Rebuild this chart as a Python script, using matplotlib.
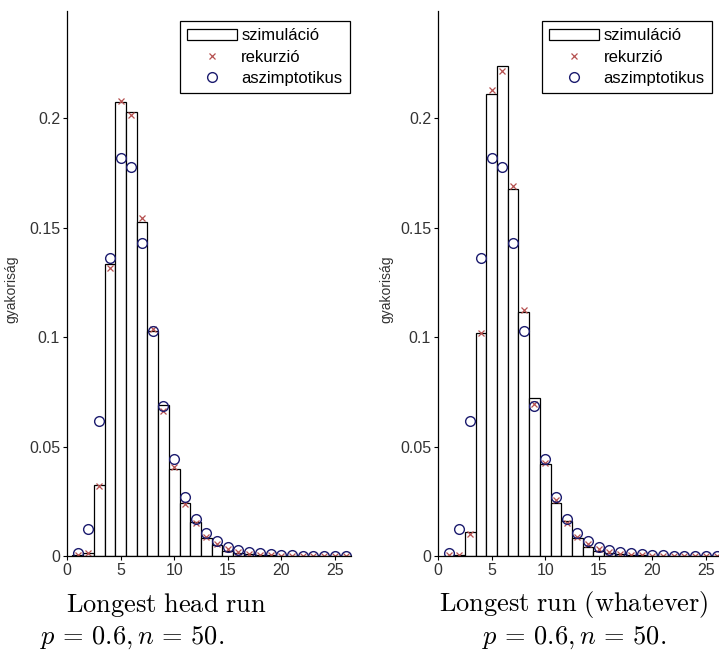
import numpy as np
import matplotlib
matplotlib.use('Agg')
import matplotlib.pyplot as plt
from matplotlib.patches import Patch
from matplotlib.lines import Line2D

plt.rcParams['font.family'] = ['Liberation Sans', 'DejaVu Sans']
plt.rcParams['mathtext.fontset'] = 'cm'

# run lengths 1..26
k = np.arange(1, 27)

# longest head run: simulation, recursion, asymptotic
head_sim = [0.0005, 0.0012, 0.0323, 0.1333, 0.2072, 0.2027, 0.1528, 0.1027, 0.0690, 0.0397,
            0.0242, 0.0154, 0.0082, 0.0049, 0.0024, 0.0015, 0.0008, 0.0005, 0.0003, 0.0002,
            0.0001, 0.0001, 0.0, 0.0, 0.0, 0.0]
head_rec = [0.0004, 0.0012, 0.0320, 0.1317, 0.2080, 0.2017, 0.1546, 0.1035, 0.0662, 0.0408,
            0.0237, 0.0149, 0.0088, 0.0053, 0.0030, 0.0018, 0.0010, 0.0006, 0.0003, 0.0002,
            0.0001, 0.0001, 0.0, 0.0, 0.0, 0.0]
# longest run (whatever)
any_sim = [0.0002, 0.0003, 0.0110, 0.1020, 0.2110, 0.2237, 0.1679, 0.1116, 0.0723, 0.0419,
           0.0242, 0.0160, 0.0084, 0.0043, 0.0024, 0.0014, 0.0008, 0.0005, 0.0003, 0.0002,
           0.0001, 0.0001, 0.0, 0.0, 0.0, 0.0]
any_rec = [0.0003, 0.0005, 0.0099, 0.1017, 0.2128, 0.2215, 0.1691, 0.1123, 0.0693, 0.0423,
           0.0256, 0.0152, 0.0088, 0.0053, 0.0030, 0.0018, 0.0010, 0.0006, 0.0003, 0.0002,
           0.0001, 0.0001, 0.0, 0.0, 0.0, 0.0]
asym = [0.0012, 0.0125, 0.0616, 0.1362, 0.1820, 0.1778, 0.1430, 0.1030, 0.0686, 0.0441,
        0.0271, 0.0169, 0.0104, 0.0068, 0.0041, 0.0027, 0.0018, 0.0012, 0.0008, 0.0005,
        0.0003, 0.0002, 0.0001, 0.0001, 0.0001, 0.0]

titles = [r'$\mathrm{Longest\ head\ run}$', r'$\mathrm{Longest\ run\ (whatever)}$']
subtitle = r'$p\,=\,0.6, n\,=\,50.$'
ylabel = 'gyakoriság'
labels = ['szimuláció', 'rekurzió', 'aszimptotikus']

W, H = 719, 651
fig = plt.figure(figsize=(W / 100, H / 100), dpi=100)

x_red = '#b5504f'
o_blue = '#1b1b6e'

# axes left px, sim, rec, legend right edge, ylabel x, title centre, subtitle centre
panels = [(67, head_sim, head_rec, 0.996, -0.172, 166, 132),
          (438, any_sim, any_rec, 0.965, -0.157, 574, 574)]
for i, (left, sim, rec, leg_x, ylab_x, cx, sx) in enumerate(panels):
    ax = fig.add_axes([left / W, 1 - 556 / H, 284 / W, 545 / H])
    ax.bar(k, sim, width=1.0, color='white', edgecolor='black', linewidth=0.9)
    ax.plot(k, rec, 'x', color=x_red, markersize=4.5, markeredgewidth=0.9)
    ax.plot(k, asym, 'o', color=o_blue, markerfacecolor='none', markersize=7, markeredgewidth=1.0)
    ax.set_xlim(0, 26.5)
    ax.set_ylim(0, 0.249)
    ax.set_xticks([0, 5, 10, 15, 20, 25])
    ax.set_yticks([0, 0.05, 0.1, 0.15, 0.2])
    ax.set_yticklabels(['0', '0.05', '0.1', '0.15', '0.2'])
    ax.tick_params(labelsize=11.5, labelcolor='#333333', length=3, width=0.8, direction='out', pad=2)
    ax.spines['top'].set_visible(False)
    ax.spines['right'].set_visible(False)
    ax.spines['left'].set_linewidth(0.9)
    ax.spines['bottom'].set_linewidth(0.9)
    ax.set_ylabel(ylabel, fontsize=10, color='#333333')
    ax.yaxis.set_label_coords(ylab_x, 0.49)
    ax.patch.set_alpha(0)

    handles = [Patch(facecolor='white', edgecolor='black', linewidth=0.9),
               Line2D([], [], linestyle='none', marker='x', color=x_red, markersize=4.5, markeredgewidth=0.9),
               Line2D([], [], linestyle='none', marker='o', color=o_blue, markerfacecolor='none',
                      markersize=7, markeredgewidth=1.0)]
    leg = ax.legend(handles, labels, loc='upper right', bbox_to_anchor=(leg_x, 0.982),
                    borderaxespad=0, fontsize=12, fancybox=False, framealpha=1,
                    edgecolor='black', handlelength=3.0, handleheight=0.7,
                    handletextpad=0.25, labelspacing=0.38, borderpad=0.45)
    leg.get_frame().set_linewidth(0.9)

    fig.text(cx / W, 1 - 605 / H, titles[i], fontsize=19, ha='center', va='center')
    fig.text(sx / W, 1 - 638 / H, subtitle, fontsize=19, ha='center', va='center')

fig.savefig('out.png', dpi=100)
